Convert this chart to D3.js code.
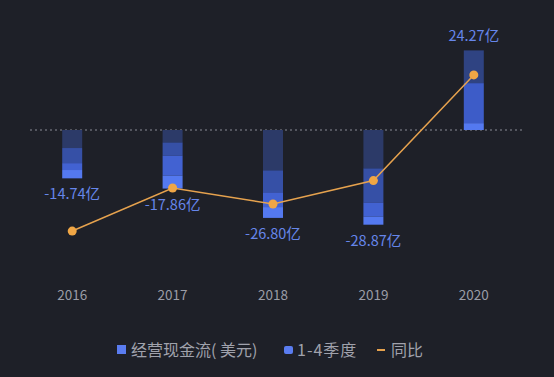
<!DOCTYPE html>
<html>
<head>
<meta charset="utf-8">
<script src="https://cdn.jsdelivr.net/npm/d3@7"></script>
<style>
  body { margin: 0; background: #1e2028; }
  text { font-family: "Noto Sans CJK SC", "Noto Sans", sans-serif; }
</style>
</head>
<body>
<div id="chart"></div>
<script>
// years and annual operating cash flow (亿美元)
const years = ["2016", "2017", "2018", "2019", "2020"];
const totals = [-14.74, -17.86, -26.80, -28.87, 24.27];
// quarterly pieces, stacked from zero outward
const quarters = [
  [5.5, 4.6, 2.1, 2.54],
  [3.8, 4.0, 6.1, 3.96],
  [12.3, 6.7, 4.5, 3.3],
  [11.7, 10.4, 4.3, 2.47],
  [2.1, 12.2, 9.97, 0]
];
// year over year change (%)
const yoy = [-99.3, -21.2, -50.1, -7.7, 184.1];
const labels = ["-14.74亿", "-17.86亿", "-26.80亿", "-28.87亿", "24.27亿"];

const svgWidth = 554;
const svgHeight = 377;

const svg = d3.select("#chart").append("svg")
  .attr("width", svgWidth)
  .attr("height", svgHeight);

svg.append("rect")
  .attr("width", svgWidth)
  .attr("height", svgHeight)
  .attr("fill", "#1e2028");

const x = d3.scalePoint()
  .domain(years)
  .range([22, 524])
  .padding(0.5);

const y = d3.scaleLinear()
  .domain([-40, 30])
  .range([261.2, 31.6]);

const yLine = d3.scaleLinear()
  .domain([-150, 250])
  .range([259, 38.6]);

// shades: near zero -> far from zero
const shadesNeg = ["#2c3a68", "#3650a6", "#4262d2", "#5479f0"];
const shadesPos = ["#5479f0", "#3d5cc8", "#2f4382", "#2f4382"];

const barW = 20;

// zero line
svg.append("line")
  .attr("x1", 30)
  .attr("x2", 522)
  .attr("y1", y(0))
  .attr("y2", y(0))
  .attr("stroke", "#8a8c96")
  .attr("stroke-width", 1)
  .attr("stroke-dasharray", "2,3");

const barG = svg.append("g");

years.forEach((yr, i) => {
  const sign = totals[i] < 0 ? -1 : 1;
  const shades = sign < 0 ? shadesNeg : shadesPos;
  let acc = 0;
  quarters[i].forEach((q, k) => {
    if (q <= 0) return;
    const a = acc * sign;
    const b = (acc + q) * sign;
    acc += q;
    barG.append("rect")
      .attr("x", x(yr) - barW / 2)
      .attr("width", barW)
      .attr("y", y(Math.max(a, b)))
      .attr("height", Math.abs(y(a) - y(b)))
      .attr("fill", shades[k]);
  });
});

// value labels
svg.selectAll(".val")
  .data(years)
  .enter()
  .append("text")
  .attr("class", "val")
  .attr("x", d => x(d))
  .attr("y", (d, i) => totals[i] < 0 ? y(totals[i]) + 21 : y(totals[i]) - 9)
  .attr("text-anchor", "middle")
  .attr("fill", "#6686ea")
  .attr("font-size", 14.5)
  .text((d, i) => labels[i]);

// yoy line
const line = d3.line()
  .x((d, i) => x(years[i]))
  .y(d => yLine(d));

svg.append("path")
  .datum(yoy)
  .attr("d", line)
  .attr("fill", "none")
  .attr("stroke", "#e6a24e")
  .attr("stroke-width", 1.5);

svg.selectAll(".dot")
  .data(yoy)
  .enter()
  .append("circle")
  .attr("class", "dot")
  .attr("cx", (d, i) => x(years[i]))
  .attr("cy", d => yLine(d))
  .attr("r", 4.5)
  .attr("fill", "#f0a645");

// x axis labels
svg.selectAll(".xl")
  .data(years)
  .enter()
  .append("text")
  .attr("class", "xl")
  .attr("x", d => x(d))
  .attr("y", 300)
  .attr("text-anchor", "middle")
  .attr("fill", "#9a9ca6")
  .attr("font-size", 13.5)
  .text(d => d);

// legend
const leg = svg.append("g").attr("transform", "translate(0,350)");
leg.append("rect").attr("x", 117).attr("y", -5).attr("width", 9).attr("height", 9).attr("fill", "#5a7cf0");
leg.append("text").attr("x", 131).attr("y", 6).attr("fill", "#a0a2ac").attr("font-size", 16).text("经营现金流( 美元)");
leg.append("rect").attr("x", 284).attr("y", -4).attr("width", 9).attr("height", 8).attr("rx", 2).attr("fill", "#5a7cf0");
leg.append("text").attr("x", 297).attr("y", 6).attr("fill", "#a0a2ac").attr("font-size", 16).attr("letter-spacing", 1).text("1-4季度");
leg.append("line").attr("x1", 377).attr("x2", 385).attr("y1", 0).attr("y2", 0).attr("stroke", "#e6a24e").attr("stroke-width", 2);
leg.append("text").attr("x", 391).attr("y", 6).attr("fill", "#a0a2ac").attr("font-size", 16).text("同比");
</script>
</body>
</html>
